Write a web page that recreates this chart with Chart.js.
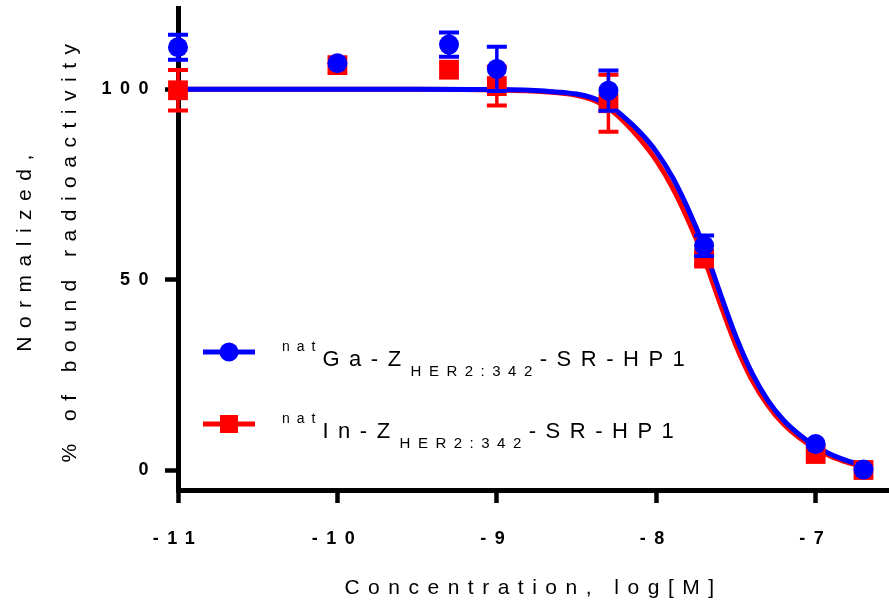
<!DOCTYPE html>
<html>
<head>
<meta charset="utf-8">
<script src="https://cdn.jsdelivr.net/npm/chart.js@4.4.1/dist/chart.umd.min.js"></script>
<style>
  html, body { margin: 0; padding: 0; background: #fff; }
  #wrap { width: 889px; height: 605px; position: relative; }
</style>
</head>
<body>
<div id="wrap"><canvas id="myChart"></canvas></div>
<script>
// concentrations, log[M]
const pointX = [-11, -10, -9.3, -9, -8.3, -7.7, -7, -6.7];

// natGa-Z HER2:342-SR-HP1
const gaMean = [111, 106.8, 111.7, 105.3, 99.6, 58.9, 6.8, 0.1];
const gaErr = [3.3, 0, 3.2, 5.8, 5.3, 2.7, 0, 0];

// natIn-Z HER2:342-SR-HP1
const inMean = [99.7, 106.3, 105.1, 100.8, 96.3, 55.5, 4.2, 0];
const inErr = [5.3, 0, 0, 5.1, 7.5, 1.5, 0, 0];

// fitted curves
const curveX = [-11, -10, -9.5, -9, -8.7, -8.5, -8.4, -8.3, -8.2, -8.1, -8.0, -7.9, -7.8, -7.7,
  -7.6, -7.5, -7.4, -7.3, -7.2, -7.1, -7.0, -6.9, -6.8, -6.7];
const gaCurve = [100, 100, 100, 99.9, 99.5, 98.7, 97.7, 95.8, 92.6, 88.6, 83.6, 77.0, 68.5, 58.5,
  46.5, 35.0, 25.5, 18.3, 13.0, 9.2, 6.2, 4.0, 2.4, 1.2];
const inCurve = [100, 100, 100, 99.8, 99.3, 98.4, 97.2, 95.0, 91.4, 86.8, 81.3, 74.3, 65.6, 55.6,
  43.8, 32.7, 23.7, 17.0, 12.0, 8.4, 5.6, 3.5, 2.0, 0.8];

const xTicks = [-11, -10, -9, -8, -7];
const yTicks = [0, 50, 100];

const BLUE = '#0000ff';
const RED = '#ff0000';
const FONT = "'Liberation Sans', Arial, sans-serif";

const toXY = (xs, ys) => xs.map((x, i) => ({ x: x, y: ys[i] }));

// letter spacing for axis texts
const spacingPlugin = {
  id: 'spacing',
  beforeDraw(chart) {
    chart.ctx.letterSpacing = '8.5px';
  }
};

// error bars, drawn right under each marker dataset
const errorBarPlugin = {
  id: 'errorBars',
  beforeDatasetDraw(chart, args) {
    const ds = chart.data.datasets[args.index];
    if (!ds.errors) return;
    const ctx = chart.ctx;
    const sx = chart.scales.x;
    const sy = chart.scales.y;
    ctx.save();
    ctx.strokeStyle = ds.backgroundColor;
    ds.data.forEach((p, i) => {
      const e = ds.errors[i];
      if (!e) return;
      const px = sx.getPixelForValue(p.x);
      const top = sy.getPixelForValue(p.y + e);
      const bot = sy.getPixelForValue(p.y - e);
      ctx.lineWidth = 3.5;
      ctx.beginPath();
      ctx.moveTo(px, top);
      ctx.lineTo(px, bot);
      ctx.stroke();
      ctx.lineWidth = 4;
      ctx.beginPath();
      ctx.moveTo(px - 10, top);
      ctx.lineTo(px + 10, top);
      ctx.moveTo(px - 10, bot);
      ctx.lineTo(px + 10, bot);
      ctx.stroke();
    });
    ctx.restore();
  }
};

function drawParts(ctx, x, base, parts) {
  parts.forEach(p => {
    ctx.font = p.font;
    ctx.letterSpacing = '0px';
    const w = ctx.measureText(p.t).width + p.sp * p.t.length;
    ctx.letterSpacing = p.sp + 'px';
    ctx.fillText(p.t, x, base + p.dy);
    x += w;
  });
}

// legend with super/subscripts
const legendPlugin = {
  id: 'richLegend',
  afterDraw(chart) {
    const ctx = chart.ctx;
    ctx.save();
    ctx.textAlign = 'left';
    ctx.textBaseline = 'alphabetic';
    const sup = '14px ' + FONT;
    const sub = '15px ' + FONT;
    const main = '22px ' + FONT;
    const rows = [
      { y: 352, color: BLUE, shape: 'circle', base: 366, name: 'Ga-Z' },
      { y: 424, color: RED, shape: 'rect', base: 438, name: 'In-Z' }
    ];
    rows.forEach(r => {
      ctx.strokeStyle = r.color;
      ctx.fillStyle = r.color;
      ctx.lineWidth = 5;
      ctx.beginPath();
      ctx.moveTo(203, r.y);
      ctx.lineTo(255, r.y);
      ctx.stroke();
      ctx.beginPath();
      if (r.shape === 'circle') {
        ctx.arc(229, r.y, 9.5, 0, Math.PI * 2);
      } else {
        ctx.rect(220, r.y - 9, 18, 18);
      }
      ctx.fill();
      ctx.fillStyle = '#000';
      drawParts(ctx, 282, r.base, [
        { t: 'nat', font: sup, sp: 7, dy: -15 },
        { t: r.name, font: main, sp: 9.5, dy: 0 },
        { t: 'HER2:342', font: sub, sp: 7.5, dy: 10 },
        { t: '-SR-HP1', font: main, sp: 9.5, dy: 0 }
      ]);
    });
    ctx.restore();
  }
};

const ctx = document.querySelector('#myChart').getContext('2d');

const myChart = new Chart(ctx, {
  type: 'line',
  data: {
    datasets: [
      {
        label: 'natGa',
        type: 'scatter',
        data: toXY(pointX, gaMean),
        errors: gaErr,
        backgroundColor: BLUE,
        borderColor: BLUE,
        pointStyle: 'circle',
        pointRadius: 10,
        pointBorderWidth: 0,
        showLine: false,
        clip: false,
        order: 1
      },
      {
        label: 'natIn',
        type: 'scatter',
        data: toXY(pointX, inMean),
        errors: inErr,
        backgroundColor: RED,
        borderColor: RED,
        pointStyle: 'rect',
        pointRadius: 14,
        pointBorderWidth: 0,
        showLine: false,
        clip: false,
        order: 2
      },
      {
        label: 'natGa fit',
        data: toXY(curveX, gaCurve),
        borderColor: BLUE,
        borderWidth: 5,
        pointRadius: 0,
        fill: false,
        cubicInterpolationMode: 'monotone',
        clip: false,
        order: 3
      },
      {
        label: 'natIn fit',
        data: toXY(curveX, inCurve),
        borderColor: RED,
        borderWidth: 5,
        pointRadius: 0,
        fill: false,
        cubicInterpolationMode: 'monotone',
        clip: false,
        order: 4
      }
    ]
  },
  options: {
    responsive: true,
    maintainAspectRatio: false,
    animation: false,
    layout: { autoPadding: false, padding: { top: 8, left: 0, right: 0, bottom: 0 } },
    plugins: {
      legend: { display: false },
      tooltip: { enabled: false }
    },
    scales: {
      x: {
        type: 'linear',
        min: -11,
        max: -6.54,
        afterBuildTicks(s) { s.ticks = xTicks.map(v => ({ value: v })); },
        afterFit(s) {
          s.height = 115;
          s.paddingLeft = 0;
          s.paddingRight = 0;
        },
        grid: { drawOnChartArea: false, drawTicks: true, tickLength: 13, tickWidth: 4.5, tickColor: '#000' },
        border: { display: true, color: '#000', width: 5 },
        ticks: {
          color: '#000',
          font: { family: FONT, size: 18, weight: 'bold' },
          padding: 25,
          maxRotation: 0,
          autoSkip: false,
          callback: v => String(v)
        },
        title: {
          display: true,
          text: 'Concentration, log[M]',
          color: '#000',
          font: { family: FONT, size: 21 },
          padding: { top: 4, bottom: 4 }
        }
      },
      y: {
        type: 'linear',
        min: -5.25,
        max: 121.3,
        afterBuildTicks(s) { s.ticks = yTicks.map(v => ({ value: v })); },
        afterFit(s) {
          s.width = 178;
          s.paddingTop = 0;
          s.paddingBottom = 0;
        },
        grid: { drawOnChartArea: false, drawTicks: true, tickLength: 13, tickWidth: 4.5, tickColor: '#000' },
        border: { display: true, color: '#000', width: 5 },
        ticks: {
          color: '#000',
          font: { family: FONT, size: 18, weight: 'bold' },
          padding: 8,
          callback: v => String(v)
        },
        title: {
          display: true,
          text: ['Normalized,', '% of bound radioactivity'],
          color: '#000',
          font: { family: FONT, size: 21, lineHeight: 2.14 },
          padding: { top: 2.5, bottom: 0 }
        }
      }
    }
  },
  plugins: [spacingPlugin, errorBarPlugin, legendPlugin]
});
</script>
</body>
</html>
